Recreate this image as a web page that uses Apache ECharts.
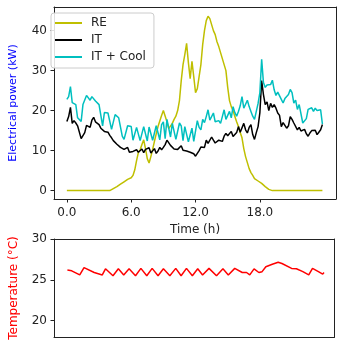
<!DOCTYPE html>
<html>
<head>
<meta charset="utf-8">
<script src="https://cdn.jsdelivr.net/npm/echarts@6/dist/echarts.min.js"></script>
<style>
  html, body { margin: 0; padding: 0; background: #fff; }
  #main { width: 342px; height: 344px; }
</style>
</head>
<body>
<div id="main"></div>
<script>
// power series, one value every 10 minutes (hours 0..23.83)
var timeStep = 1 / 6;
var reValues = [
  0, 0, 0, 0, 0, 0,  0, 0, 0, 0, 0, 0,  0, 0, 0, 0, 0, 0,  0, 0, 0, 0, 0, 0,
  0, 0.2, 0.5, 0.8, 1.0, 1.3,
  1.6, 1.9, 2.2, 2.5, 2.8, 3.0,
  3.2, 3.8, 5.2, 7.5, 9.5, 10.2,
  11.5, 12.7, 10.5, 8.0, 6.9, 8.5,
  10.3, 12.3, 14.2, 16.0, 17.4, 18.8,
  20.0, 19.8, 17.2, 15.5, 15.3, 16.8,
  17.8, 18.6, 20.0, 22.5, 27.5, 31.5,
  34.0, 36.8, 32.0, 28.0, 32.3, 28.5,
  24.5, 25.5, 28.5, 31.5, 36.5, 40.0,
  42.5, 43.6, 43.0, 41.5, 40.0, 39.0,
  37.2, 36.0, 34.5, 33.0, 31.5, 30.0,
  25.8, 22.5, 21.0, 20.0, 18.5, 17.2,
  16.0, 14.5, 13.2, 10.5, 8.5, 7.0,
  5.5, 4.5, 3.8, 3.0, 2.7, 2.4,
  2.2, 1.8, 1.4, 1.0, 0.6, 0.3,
  0, 0, 0, 0, 0, 0,  0, 0, 0, 0, 0, 0,  0, 0, 0, 0, 0, 0,
  0, 0, 0, 0, 0, 0,  0, 0, 0, 0, 0, 0
];
var itValues = [
  17.3, 18.5, 20.8, 16.8, 17.5, 16.9,
  16.2, 15.8, 13.0, 12.8, 14.5, 16.3,
  16.0, 15.8, 17.6, 18.3, 17.2, 17.0,
  16.5, 15.6, 15.3, 14.8, 14.3, 14.6,
  13.8, 13.2, 12.5, 12.9, 11.6, 11.9,
  10.8, 11.2, 10.3, 10.0, 10.8, 9.6,
  9.1, 9.8, 9.3, 10.2, 9.6, 9.9,
  10.4, 9.5, 10.3, 9.8, 10.7, 9.4,
  9.8, 10.5, 9.3, 9.9, 10.8, 10.2,
  10.8, 11.5, 12.6, 12.2, 11.3, 11.0,
  10.4, 10.9, 10.3, 10.8, 11.2, 10.1,
  10.5, 9.9, 10.3, 9.6, 9.9, 9.2,
  8.6, 9.3, 10.0, 10.9, 11.4, 10.8,
  12.6, 11.8, 12.2, 13.4, 12.6, 11.9,
  12.0, 12.6, 12.9, 12.3, 13.6, 14.3,
  13.7, 14.2, 14.8, 13.5, 13.9, 14.5,
  16.0, 14.6, 14.3, 16.8, 15.2, 14.4,
  15.8, 16.5, 14.0, 12.8, 14.5, 16.0,
  19.5, 27.5, 24.0, 21.5, 22.2, 20.0,
  21.8, 20.8, 21.5, 20.6, 19.4, 18.8,
  16.0, 17.0, 16.5, 15.6, 16.2, 18.5,
  17.8, 16.9, 17.3, 15.2, 15.8, 14.9,
  14.8, 15.3, 14.2, 13.6, 14.4, 15.0,
  14.8, 15.1, 14.0, 14.6, 15.2, 16.5
];
var coolValues = [
  22.8, 23.5, 26.0, 22.0, 22.5, 21.5,
  18.2, 17.8, 17.3, 21.5, 22.0, 23.8,
  23.5, 22.6, 23.5, 23.0, 22.4, 22.8,
  21.5, 21.0, 16.2, 19.5, 19.2, 19.4,
  19.4, 15.3, 15.6, 19.0, 18.8, 18.2,
  18.2, 13.6, 12.8, 12.7, 16.2, 15.8,
  16.0, 12.6, 12.2, 15.8, 16.3, 12.5,
  12.3, 16.0, 15.6, 12.4, 15.9, 16.4,
  12.6, 12.3, 16.2, 16.0, 12.7, 16.5,
  17.2, 13.0, 17.8, 17.5, 13.4, 16.8,
  16.5, 12.8, 13.0, 16.9, 16.2, 12.5,
  16.0, 15.8, 12.2, 12.0, 15.6, 12.3,
  11.8, 17.5, 15.8, 15.2, 17.8, 17.0,
  18.5, 20.2, 17.6, 17.9, 19.4, 17.2,
  16.9, 17.5, 16.8, 18.5, 20.2, 17.8,
  17.4, 19.8, 18.2, 21.0, 19.5, 18.6,
  19.8, 21.2, 23.5, 20.6, 20.3, 22.6,
  21.0, 19.8, 18.6, 17.8, 18.2, 21.8,
  24.5, 32.8, 27.0, 25.8, 26.4, 26.9,
  26.5, 27.6, 25.2, 23.8, 24.6, 24.8,
  22.8, 21.9, 23.0, 22.6, 24.0, 25.3,
  24.5, 21.9, 22.6, 20.3, 21.5, 21.1,
  16.9, 16.5, 18.0, 20.3, 20.5, 20.7,
  19.8, 20.6, 20.0, 20.4, 20.2, 16.6
];

// temperature, read at the turning points
var tempTime = [0, 0.4, 1.15, 1.55, 2.5, 3.25, 3.55, 4.25, 4.75, 5.25, 5.75, 6.35, 6.85, 7.4, 7.9, 8.45,
  8.95, 9.55, 10.1, 10.6, 11.1, 11.65, 12.15, 12.6, 13.2, 13.9, 14.5, 15.0, 15.6, 16.3, 16.7, 17.0,
  17.4, 17.85, 18.15, 18.5, 19.1, 19.65, 20.0, 20.9, 21.35, 21.95, 22.5, 22.85, 23.4, 23.8, 23.92];
var tempValues = [26.2, 26.1, 25.6, 26.5, 25.9, 25.6, 26.35, 25.5, 26.35, 25.6, 26.35, 25.5, 26.4, 25.5, 26.4, 25.5,
  26.35, 25.5, 26.4, 25.5, 26.4, 25.5, 26.35, 25.6, 26.4, 25.5, 26.35, 25.6, 26.4, 25.9, 25.9, 25.6,
  26.35, 25.9, 26.0, 26.6, 26.9, 27.15, 27.0, 26.4, 26.35, 26.0, 25.6, 26.4, 26.0, 25.7, 25.9];

var powerTicks = [0, 10, 20, 30, 40];
var timeTicks = [0, 6, 12, 18];
var tempTicks = [20, 25, 30];

function pairs(times, values) {
  return values.map(function (v, i) { return [times[i], v]; });
}
var powerTime = reValues.map(function (v, i) { return i * timeStep; });

var font = 'DejaVu Sans';
var ink = '#222';
var frameLine = { show: true, onZero: false, lineStyle: { color: ink, width: 1 } };

// axis used only to draw the top / right edge of a plot box
function frameX(grid, min, max) {
  return {
    gridIndex: grid, type: 'value', position: 'top', min: min, max: max,
    axisLine: frameLine, axisTick: { show: false }, axisLabel: { show: false }, splitLine: { show: false }
  };
}
function frameY(grid, min, max) {
  return {
    gridIndex: grid, type: 'value', position: 'right', min: min, max: max,
    axisLine: frameLine, axisTick: { show: false }, axisLabel: { show: false }, splitLine: { show: false }
  };
}

var chart = echarts.init(document.getElementById('main'));

var option = {
  animation: false,
  textStyle: { fontFamily: font },
  grid: [
    { left: 44, right: 6, top: 7, height: 192 },
    { left: 42, right: 7.5, top: 239, height: 98 }
  ],
  legend: {
    orient: 'vertical',
    left: 51,
    top: 13,
    padding: [4, 8, 5, 4],
    itemWidth: 27,
    itemHeight: 2,
    itemGap: 5,
    icon: 'rect',
    backgroundColor: 'rgba(255,255,255,0.85)',
    borderColor: '#ccc',
    borderWidth: 1,
    borderRadius: 3,
    textStyle: { fontFamily: font, fontSize: 12, lineHeight: 12, color: ink, padding: [0, 0, 0, 4] },
    data: ['RE', 'IT', 'IT + Cool']
  },
  xAxis: [{
    gridIndex: 0,
    type: 'value',
    min: -1.2,
    max: 25.1,
    name: 'Time (h)',
    nameLocation: 'middle',
    nameGap: 25,
    nameTextStyle: { fontFamily: font, fontSize: 12, color: ink },
    axisLine: frameLine,
    splitLine: { show: false },
    axisTick: { show: true, length: 3.5, lineStyle: { color: ink }, customValues: timeTicks },
    axisLabel: {
      margin: 8, fontSize: 12, color: ink, fontFamily: font, customValues: timeTicks,
      formatter: function (v) { return v.toFixed(1); }
    }
  }, {
    gridIndex: 1,
    type: 'value',
    min: -1.25,
    max: 24.9,
    axisLine: frameLine,
    splitLine: { show: false },
    axisTick: { show: false },
    axisLabel: { show: false }
  },
  frameX(0, -1.2, 25.1),
  frameX(1, -1.25, 24.9)],
  yAxis: [{
    gridIndex: 0,
    type: 'value',
    min: -2.1,
    max: 45.9,
    name: 'Electrical power (kW)',
    nameLocation: 'middle',
    nameGap: 35,
    nameTextStyle: { fontFamily: font, fontSize: 11, color: '#0000ff' },
    axisLine: frameLine,
    splitLine: { show: false },
    axisTick: { show: true, length: 3.5, lineStyle: { color: ink }, customValues: powerTicks },
    axisLabel: { margin: 7, fontSize: 12, color: ink, fontFamily: font, customValues: powerTicks }
  }, {
    gridIndex: 1,
    type: 'value',
    min: 18,
    max: 30,
    name: 'Temperature (°C)',
    nameLocation: 'middle',
    nameGap: 34,
    nameTextStyle: { fontFamily: font, fontSize: 12, color: '#ff0000' },
    axisLine: frameLine,
    splitLine: { show: false },
    axisTick: { show: true, length: 3.5, lineStyle: { color: ink }, customValues: tempTicks },
    axisLabel: { margin: 7, fontSize: 12, color: ink, fontFamily: font, customValues: tempTicks }
  },
  frameY(0, -2.1, 45.9),
  frameY(1, 18, 30)],
  series: [{
    name: 'RE',
    type: 'line',
    xAxisIndex: 0,
    yAxisIndex: 0,
    symbol: 'none',
    color: '#bfbf00',
    lineStyle: { width: 1.5 },
    data: pairs(powerTime, reValues)
  }, {
    name: 'IT',
    type: 'line',
    xAxisIndex: 0,
    yAxisIndex: 0,
    symbol: 'none',
    color: '#000000',
    lineStyle: { width: 1.5 },
    data: pairs(powerTime, itValues)
  }, {
    name: 'IT + Cool',
    type: 'line',
    xAxisIndex: 0,
    yAxisIndex: 0,
    symbol: 'none',
    color: '#00bfbf',
    lineStyle: { width: 1.5 },
    data: pairs(powerTime, coolValues)
  }, {
    name: 'Temperature',
    type: 'line',
    xAxisIndex: 1,
    yAxisIndex: 1,
    symbol: 'none',
    color: '#ff0000',
    lineStyle: { width: 1.5 },
    data: pairs(tempTime, tempValues)
  }]
};

chart.setOption(option);
</script>
</body>
</html>
